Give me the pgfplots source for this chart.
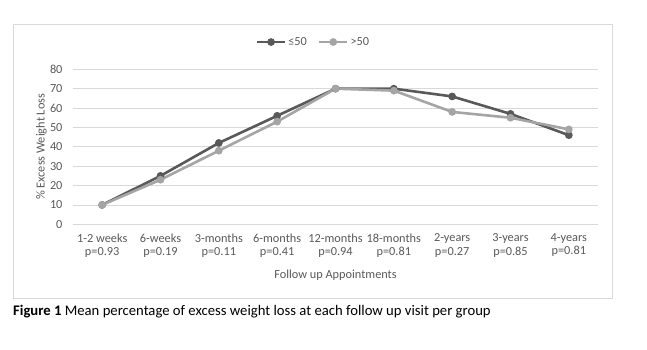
\documentclass[border=0pt]{standalone}
\usepackage{fontspec}
\setmainfont{Carlito}
\usepackage{pgfplots}
\pgfplotsset{compat=1.18}
\definecolor{darkser}{HTML}{595959}
\definecolor{lightser}{HTML}{A5A5A5}
\definecolor{gridc}{HTML}{D9D9D9}
\definecolor{txt}{HTML}{595959}
\newcommand{\tf}{\fontsize{12.3bp}{13.2bp}\selectfont}
\begin{document}
\begin{tikzpicture}[x=1bp,y=1bp]
\path (0,0) rectangle (647,-349);
\draw[gridc, line width=0.75bp] (13,-24.7) rectangle (612,-298.5);
\begin{axis}[
  at={(73bp,-224.3bp)}, anchor=south west,
  scale only axis, width=525bp, height=155bp,
  xmin=-0.5, xmax=8.5, ymin=0, ymax=80,
  axis line style={draw=none},
  ytick={0,10,...,80},
  ymajorgrids, grid style={gridc, line width=0.75bp},
  xtick={0,...,8},
  xticklabels={{1-2 weeks\\p=0.93},{6-weeks\\p=0.19},{3-months\\p=0.11},{6-months\\p=0.41},{12-months\\p=0.94},{18-months\\p=0.81},{2-years\\p=0.27},{3-years\\p=0.85},{4-years\\p=0.81}},
  xticklabel style={align=center, font=\tf, text=txt},
  yticklabel style={font=\tf, text=txt},
  major tick length=0pt,
  xtick style={draw=none}, ytick style={draw=none},
  x tick label style={yshift=-6bp},
  y tick label style={xshift=-7bp},
  /pgf/number format/assume math mode=true,
  xlabel={Follow up Appointments}, ylabel={\% Excess Weight Loss},
  label style={font=\tf, text=txt},
  xlabel style={at={(axis description cs:0.5,-0.327)}, anchor=center},
  ylabel style={at={(axis description cs:-0.06,0.5)}, anchor=center},
  legend style={at={(axis description cs:0.458,1.176)}, anchor=center, draw=none, fill=none, font=\tf, text=txt,
    /tikz/every even column/.append style={column sep=9bp}},
  legend columns=2,
  legend image code/.code={\draw[mark repeat=2,mark phase=2] plot coordinates {(0bp,0bp) (14bp,0bp) (28bp,0bp)};},
  every axis plot/.append style={line width=2.6bp, mark=*, mark size=2.5bp},
]
\addplot[darkser, mark options={fill=darkser, draw=darkser}] coordinates {(0,10) (1,25) (2,42) (3,56) (4,70) (5,70) (6,66) (7,57) (8,46)};
\addplot[lightser, mark options={fill=lightser, draw=lightser}] coordinates {(0,10) (1,23) (2,38) (3,53) (4,70) (5,69) (6,58) (7,55) (8,49)};
\legend{≤50,>50}
\end{axis}
\node[anchor=west, font=\fontsize{14.67bp}{16bp}\selectfont, inner sep=0pt] at (13,-312) {\textbf{Figure 1} Mean percentage of excess weight loss at each follow up visit per group};
\end{tikzpicture}
\end{document}
